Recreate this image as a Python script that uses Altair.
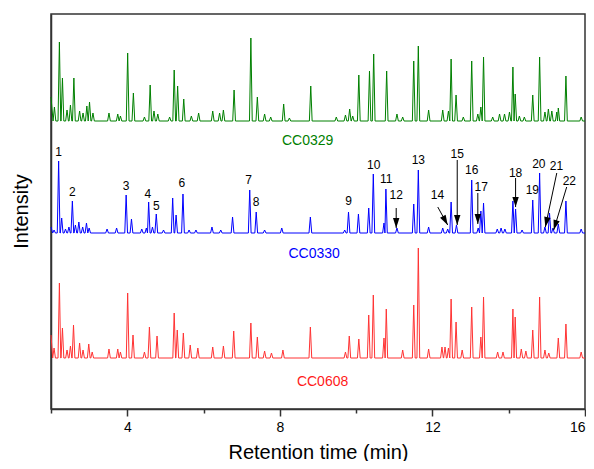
import math
import altair as alt
import pandas as pd

# ---------------- data ----------------
series_names = ["CC0329", "CC0330", "CC0608"]
series_colors = ["#008000", "#0000FF", "#FF3333"]
label_colors = ["#008000", "#0000FF", "#FF1A1A"]
series_offsets = [288, 176, 51]          # vertical stacking of the traces
series_start = [24, 6, 23]

green_t = [2.09, 2.22, 2.30, 2.42, 2.51, 2.60, 2.75, 2.84, 2.94, 3.01, 3.10, 3.52, 3.75, 3.82,
           4.01, 4.16, 4.45, 4.60, 4.70, 4.80, 5.11, 5.23, 5.32, 5.48, 5.68, 5.87, 6.24, 6.42,
           6.52, 6.80, 7.24, 7.41, 7.60, 7.76, 8.10, 8.25, 8.81, 9.48, 9.72, 9.83, 9.91, 10.07,
           10.35, 10.46, 10.80, 11.07, 11.22, 11.51, 11.63, 11.90, 12.27, 12.42, 12.49, 12.62,
           12.81, 13.03, 13.19, 13.27, 13.34, 13.58, 13.76, 13.89, 14.02, 14.11, 14.17, 14.28,
           14.41, 14.63, 14.81, 14.95, 15.04, 15.13, 15.26, 15.30, 15.50, 15.90]
green_h = [14, 79, 43, 11, 16, 43, 10, 8, 15, 19, 8, 8, 7, 5,
           68, 28, 4, 36, 10, 7, 4, 51, 35, 22, 5, 8, 10, 8,
           11, 31, 83, 24, 7, 4, 17, 3, 35, 4, 6, 12, 5, 46,
           50, 67, 50, 7, 4, 60, 75, 11, 11, 10, 62, 26,
           4, 60, 7, 14, 64, 4, 7, 7, 9, 54, 27, 5,
           4, 26, 64, 9, 12, 10, 9, 13, 45, 4]

blue_t = [2.08, 2.20, 2.28, 2.38, 2.47, 2.56, 2.64, 2.73, 2.83, 2.93, 3.00, 3.47, 3.72, 3.97,
          4.11, 4.38, 4.50, 4.56, 4.66, 4.76, 4.95, 5.19, 5.28, 5.46, 5.62, 5.80, 6.22, 6.45,
          6.76, 7.21, 7.38, 7.60, 8.05, 8.80, 9.70, 9.80, 10.06, 10.33, 10.45, 10.73, 10.78,
          11.07, 11.51, 11.63, 11.90, 12.27, 12.40, 12.49, 12.63, 13.03, 13.20, 13.27, 13.34,
          13.70, 13.80, 13.90, 14.11, 14.18, 14.35, 14.63, 14.81, 14.95, 15.07, 15.16, 15.30,
          15.50, 15.90]
blue_h = [3, 72, 15, 4, 6, 32, 8, 11, 6, 10, 5, 4, 5, 38,
          14, 4, 5, 31, 6, 19, 3, 35, 18, 39, 3, 3, 6, 3,
          16, 43, 21, 3, 5, 16, 3, 21, 19, 25, 59, 10, 44,
          5, 29, 63, 6, 5, 4, 31, 8, 53, 5, 22, 30,
          4, 5, 4, 32, 24, 3, 33, 60, 6, 20, 5, 9,
          32, 4]

red_t = [2.08, 2.22, 2.30, 2.42, 2.51, 2.59, 2.75, 2.84, 2.99, 3.08, 3.52, 3.75, 3.82, 4.01,
         4.15, 4.45, 4.58, 4.78, 5.23, 5.31, 5.47, 5.65, 5.85, 6.24, 6.52, 6.79, 7.24, 7.41,
         7.60, 7.78, 8.08, 8.80, 9.72, 9.82, 10.07, 10.33, 10.45, 10.73, 10.79, 11.22, 11.51,
         11.63, 11.90, 12.25, 12.33, 12.42, 12.49, 12.62, 12.78, 13.03, 13.27, 13.34, 13.71,
         13.85, 14.11, 14.17, 14.33, 14.45, 14.63, 14.81, 14.95, 15.05, 15.30, 15.50, 15.90]
red_h = [10, 75, 30, 8, 12, 33, 15, 8, 14, 6, 9, 9, 6, 65,
         23, 6, 31, 22, 45, 28, 25, 13, 10, 11, 12, 27, 35, 21,
         7, 5, 8, 31, 6, 22, 19, 43, 63, 20, 49, 8, 53,
         110, 9, 11, 11, 10, 59, 36, 8, 51, 21, 61, 6,
         6, 49, 41, 9, 7, 28, 61, 8, 5, 20, 34, 6]

# peak numbers on the CC0330 trace
peak_numbers = [str(i) for i in range(1, 23)]
peak_label_t = [2.20, 2.56, 3.97, 4.54, 4.76, 5.43, 7.18, 7.38, 9.80, 10.46, 10.79,
                11.05, 11.63, 12.13, 12.65, 13.03, 13.28, 14.18, 14.62, 14.79, 15.25, 15.59]
peak_label_v = [253, 213, 219, 211, 199, 222, 225, 203, 204, 240, 226,
                210, 245, 210, 251, 235, 218, 232, 215, 241, 239, 224]

# arrows: tail -> tip
arrow_t1 = [11.05, 12.14, 12.65, 13.19, 14.18, 15.26, 15.52]
arrow_v1 = [201, 202, 249, 216, 231, 236, 222]
arrow_t2 = [11.05, 12.40, 12.65, 13.19, 14.18, 14.96, 15.18]
arrow_v2 = [181, 184, 184, 185, 202, 182, 179]

# trace name labels
name_t = [8.73, 8.90, 9.12]
name_v = [264, 151, 23]

X_MIN, X_MAX = 2, 16
Y_MAX = 395
W, H = 534, 395
HALF_WIDTH = 0.036

# ---------------- build tables ----------------
rows = []
for name, t_list, h_list, off, start in zip(series_names, [green_t, blue_t, red_t],
                                            [green_h, blue_h, red_h], series_offsets, series_start):
    pk = sorted(zip(t_list, h_list))
    pts = [(X_MIN, start)]
    for i, (t, h) in enumerate(pk):
        lo, hi = t - HALF_WIDTH, t + HALF_WIDTH
        if i > 0:
            lo = max(lo, (pk[i - 1][0] + t) / 2)
        if i < len(pk) - 1:
            hi = min(hi, (t + pk[i + 1][0]) / 2)
        lo = max(lo, X_MIN)
        pts += [(lo, 0), (t, h), (hi, 0)]
    pts.append((X_MAX, 0))
    for k, (t, h) in enumerate(pts):
        rows.append({"series": name, "t": t, "v": off + h, "k": k})
lines_df = pd.DataFrame(rows)

labels_df = pd.DataFrame({"n": peak_numbers, "t": peak_label_t, "v": peak_label_v})

px_per_min = W / (X_MAX - X_MIN)
px_per_v = H / Y_MAX
angles = []
for a, b, c, d in zip(arrow_t1, arrow_v1, arrow_t2, arrow_v2):
    dx = (c - a) * px_per_min
    dy = -(d - b) * px_per_v      # screen y goes down
    ang = math.degrees(math.atan2(-dx, dy))   # 0 = pointing down, clockwise
    angles.append(ang % 360)
arrows_df = pd.DataFrame({"t1": arrow_t1, "v1": arrow_v1, "t2": arrow_t2, "v2": arrow_v2,
                          "ang": angles})

names_df = pd.DataFrame({"name": series_names, "t": name_t, "v": name_v})

FONT = "Liberation Sans"

x_scale = alt.Scale(domain=[X_MIN, X_MAX], nice=False, zero=False)
y_scale = alt.Scale(domain=[0, Y_MAX], nice=False, zero=False)

x_axis = alt.Axis(
    values=list(range(2, 17, 2)),
    labelExpr="datum.value % 4 === 0 ? datum.label : ''",
    tickSize={"condition": {"test": "datum.value % 4 === 0", "value": 7}, "value": 4},
    labelAlign={"condition": {"test": "datum.value === 16", "value": "right"}, "value": "center"},
    labelPadding=4,
    labelBound=False,
    title="Retention time (min)",
    titleY=49, titleBaseline="alphabetic",
    grid=False,
)
y_axis = alt.Axis(
    ticks=False, labels=False, grid=False,
    title="Intensity",
    titleX=-30, titleY=197, titleBaseline="middle", titleAngle=-90, titleAlign="center",
)

lines = alt.Chart(lines_df).mark_line(strokeWidth=1, interpolate="linear").encode(
    x=alt.X("t:Q", scale=x_scale, axis=x_axis),
    y=alt.Y("v:Q", scale=y_scale, axis=y_axis),
    color=alt.Color("series:N", scale=alt.Scale(domain=series_names, range=series_colors),
                    legend=None),
    order=alt.Order("k:Q"),
)

peak_text = alt.Chart(labels_df).mark_text(
    font=FONT, fontSize=12, color="black", align="center", baseline="alphabetic"
).encode(x=alt.X("t:Q", scale=x_scale), y=alt.Y("v:Q", scale=y_scale), text="n:N")

shafts = alt.Chart(arrows_df).mark_rule(color="black", strokeWidth=1).encode(
    x=alt.X("t1:Q", scale=x_scale), y=alt.Y("v1:Q", scale=y_scale),
    x2="t2:Q", y2="v2:Q",
)
heads = alt.Chart(arrows_df).mark_point(
    shape="M0,0 L-0.32,-1 L0.32,-1 Z", filled=True, color="black", opacity=1,
    size=400, strokeWidth=0,
).encode(x=alt.X("t2:Q", scale=x_scale), y=alt.Y("v2:Q", scale=y_scale),
         angle=alt.Angle("ang:Q", scale=None))

names = alt.Chart(names_df).mark_text(
    font=FONT, fontSize=14, align="center", baseline="alphabetic"
).encode(
    x=alt.X("t:Q", scale=x_scale), y=alt.Y("v:Q", scale=y_scale), text="name:N",
    color=alt.Color("name:N", scale=alt.Scale(domain=series_names, range=label_colors),
                    legend=None),
)

chart = alt.layer(lines, shafts, heads, peak_text, names).resolve_scale(color="independent").properties(
    width=W, height=H,
    autosize=alt.AutoSizeParams(type="none"),
    padding={"left": 43, "top": 6, "right": 1, "bottom": 52},
).configure_view(
    stroke="#333", strokeWidth=1.5
).configure_axis(
    domainColor="#333", domainWidth=1.5, tickColor="#333", tickWidth=1.5,
    labelFont=FONT, labelFontSize=14, labelColor="black",
    titleFont=FONT, titleFontSize=20, titleFontWeight="normal", titleColor="black",
)

chart.save("out.html", embed_options={"renderer": "svg", "actions": False})
